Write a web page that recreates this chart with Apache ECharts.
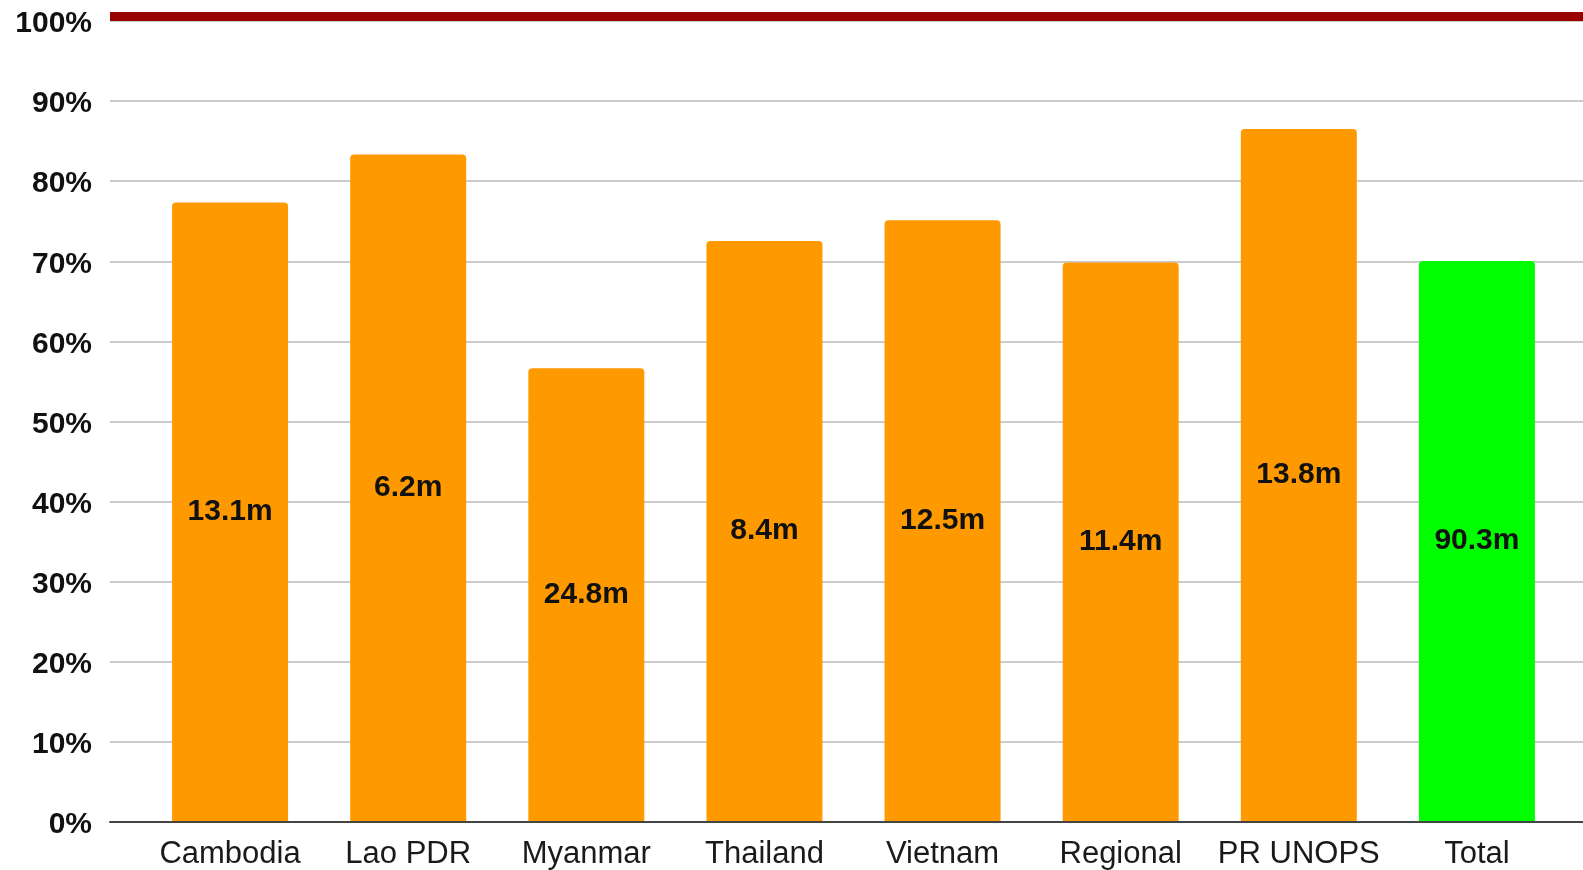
<!DOCTYPE html>
<html>
<head>
<meta charset="utf-8">
<script src="https://cdn.jsdelivr.net/npm/echarts@6/dist/echarts.min.js"></script>
<style>
    html, body { margin: 0; padding: 0; background: #fff; }
    #chart { width: 1583px; height: 870px; }
</style>
</head>
<body>
<div id="chart"></div>
<script>
const categories = ['Cambodia', 'Lao PDR', 'Myanmar', 'Thailand', 'Vietnam', 'Regional', 'PR UNOPS', 'Total']
const percentSpent = [77.3, 83.3, 56.6, 72.5, 75.1, 69.8, 86.5, 70.0]
const amountLabels = ['13.1m', '6.2m', '24.8m', '8.4m', '12.5m', '11.4m', '13.8m', '90.3m']
const barColors = ['#ff9900', '#ff9900', '#ff9900', '#ff9900', '#ff9900', '#ff9900', '#ff9900', '#00ff00']

const chart = echarts.init(document.getElementById('chart'))

const hiddenValueAxis = {
    type: 'value',
    min: 0,
    max: 1,
    axisTick: { show: false },
    axisLabel: { show: false },
    splitLine: { show: false }
}

const option = {
    backgroundColor: '#fff',
    animation: false,
    textStyle: { fontFamily: 'Liberation Sans, Arial, sans-serif' },
    grid: [
        // grid for gridlines, y labels and the full-width axis lines
        { left: 110, right: 0, top: 21, bottom: 48 },
        // grid for the bars themselves
        { left: 141, right: 17, top: 21, bottom: 48 }
    ],
    xAxis: [
        Object.assign({}, hiddenValueAxis, {
            gridIndex: 0,
            position: 'bottom',
            axisLine: { show: true, lineStyle: { color: '#444', width: 2 } }
        }),
        // thick red 100% line
        Object.assign({}, hiddenValueAxis, {
            gridIndex: 0,
            position: 'top',
            offset: 5,
            axisLine: { show: true, lineStyle: { color: '#990000', width: 9, cap: 'butt' } }
        }),
        {
            gridIndex: 1,
            type: 'category',
            data: categories,
            axisLine: { show: false },
            axisTick: { show: false },
            axisLabel: {
                interval: 0,
                color: '#1a1a1a',
                fontSize: 31,
                margin: 18
            }
        }
    ],
    yAxis: [
        {
            gridIndex: 0,
            type: 'value',
            min: 0,
            max: 100,
            interval: 10,
            axisLine: { show: false },
            axisTick: { show: false },
            axisLabel: {
                formatter: '{p|{value}%}',
                margin: 18,
                rich: {
                    p: {
                        color: '#111',
                        fontWeight: 'bold',
                        fontSize: 30,
                        padding: [6, 0, 0, 0]
                    }
                }
            },
            splitLine: { lineStyle: { color: '#cccccc', width: 2 } }
        },
        {
            gridIndex: 1,
            type: 'value',
            min: 0,
            max: 100,
            show: false
        }
    ],
    series: [
        {
            type: 'bar',
            xAxisIndex: 2,
            yAxisIndex: 1,
            barWidth: 116,
            data: percentSpent.map((v, i) => ({
                value: v,
                itemStyle: { color: barColors[i], borderRadius: [4, 4, 0, 0] }
            })),
            label: {
                show: true,
                position: 'inside',
                formatter: p => amountLabels[p.dataIndex],
                color: '#111',
                fontWeight: 'bold',
                fontSize: 30,
                padding: [5, 0, 0, 0]
            },
            z: 3
        }
    ]
}

chart.setOption(option)
</script>
</body>
</html>
